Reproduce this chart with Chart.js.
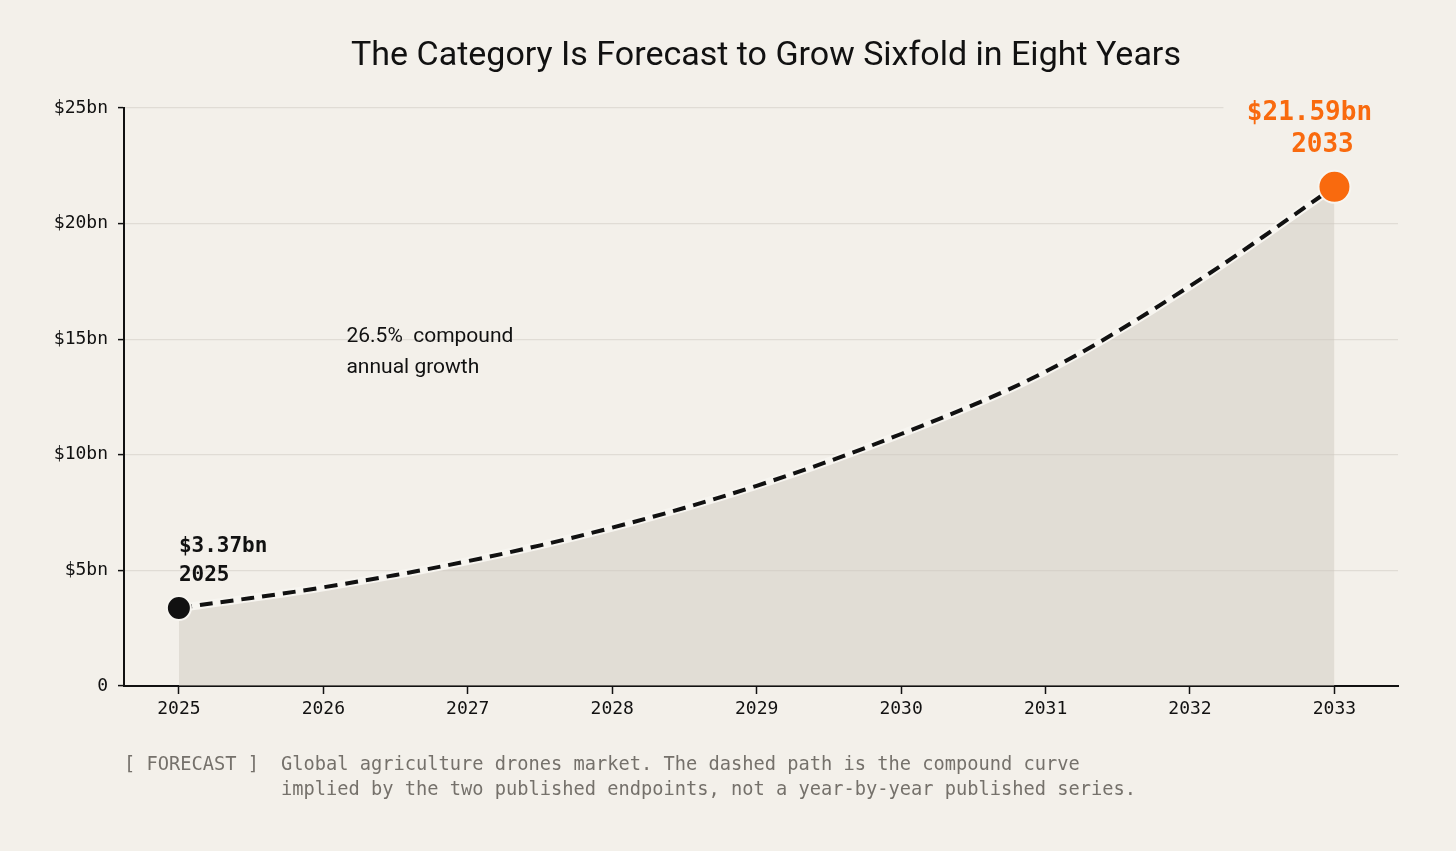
<!DOCTYPE html>
<html>
<head>
<meta charset="utf-8">
<script src="https://cdn.jsdelivr.net/npm/chart.js@4.4.1/dist/chart.umd.min.js"></script>
<style>
  html, body { margin: 0; padding: 0; background: #f3f0ea; }
  #wrap { position: relative; width: 1456px; height: 851px; overflow: hidden; }
  #chart { position: absolute; left: 0; top: 0; }
  #title {
    position: absolute; left: 0; top: 33px; width: 1532px; text-align: center;
    font-family: Roboto, sans-serif; font-size: 34px; color: #111;
  }
  .note {
    position: absolute; font-family: "DejaVu Sans Mono", monospace; font-size: 18.7px;
    color: #75716b; white-space: pre; line-height: 25px;
  }
</style>
</head>
<body>
<div id="wrap">
  <canvas id="chart" width="1456" height="851"></canvas>
  <div id="title">The Category Is Forecast to Grow Sixfold in Eight Years</div>
  <div class="note" style="left:124px; top:751px;">[ FORECAST ]</div>
  <div class="note" style="left:281px; top:751px;">Global agriculture drones market. The dashed path is the compound curve
implied by the two published endpoints, not a year-by-year published series.</div>
</div>
<script>
// data
const years = [2025, 2026, 2027, 2028, 2029, 2030, 2031, 2032, 2033];
const marketBn = [3.37, 4.27, 5.40, 6.85, 8.66, 10.9, 13.6, 17.3, 21.59];
const yTicks = [0, 5, 10, 15, 20, 25];

const monoFont = '"DejaVu Sans Mono", monospace';
const orange = '#f96a0e';

const points = years.map((y, i) => ({ x: y, y: marketBn[i] }));
const last = points.length - 1;

// labels drawn on top of the chart
const labelPlugin = {
    id: 'labels',
    afterDatasetsDraw(chart) {
        const ctx = chart.ctx;
        const xs = chart.scales.x;
        const ys = chart.scales.y;
        const x0 = xs.getPixelForValue(years[0]);
        const y0 = ys.getPixelForValue(marketBn[0]);
        const x1 = xs.getPixelForValue(years[last]);
        const y1 = ys.getPixelForValue(marketBn[last]);
        ctx.save();
        ctx.textBaseline = 'middle';

        // start label
        ctx.fillStyle = '#111';
        ctx.font = 'bold 21px ' + monoFont;
        ctx.textAlign = 'left';
        ctx.fillText('$' + marketBn[0].toFixed(2) + 'bn', x0, y0 - 62);
        ctx.fillText(String(years[0]), x0, y0 - 33);

        // end label, with a background box over the gridline
        ctx.fillStyle = '#f3f0ea';
        ctx.fillRect(x1 - 111, y1 - 92, 200, 60);
        ctx.fillStyle = orange;
        ctx.font = 'bold 26px ' + monoFont;
        ctx.textAlign = 'center';
        ctx.fillText('$' + marketBn[last].toFixed(2) + 'bn', x1 - 25, y1 - 74);
        ctx.fillText(String(years[last]), x1 - 12, y1 - 42);

        // growth annotation
        const ax = xs.getPixelForValue(2026.16);
        const ay = ys.getPixelForValue(15);
        ctx.font = '21px Roboto, sans-serif';
        ctx.textAlign = 'left';
        const w = ctx.measureText('26.5%  compound').width;
        ctx.fillStyle = '#f3f0ea';
        ctx.fillRect(ax, ay - 10, w, 8);
        ctx.fillStyle = '#111';
        ctx.fillText('26.5%  compound', ax, ay - 2);
        ctx.fillText('annual growth', ax, ay + 29);
        ctx.restore();
    }
};

const ctx = document.getElementById('chart').getContext('2d');
const chart = new Chart(ctx, {
    type: 'line',
    data: {
        datasets: [
            {
                data: points,
                borderColor: '#f7f5f0',
                borderWidth: 8,
                pointRadius: 0,
                fill: 'origin',
                backgroundColor: 'rgba(205, 198, 188, 0.45)',
                tension: 0.35,
                order: 2
            },
            {
                data: points,
                borderColor: '#111',
                borderWidth: 4,
                borderDash: [13, 8],
                fill: false,
                tension: 0.35,
                pointRadius: points.map((p, i) => i === 0 ? 12 : (i === last ? 16 : 0)),
                pointBackgroundColor: points.map((p, i) => i === last ? orange : '#111'),
                pointBorderColor: '#f7f5f0',
                pointBorderWidth: 2,
                order: 1
            }
        ]
    },
    options: {
        responsive: false,
        animation: false,
        clip: false,
        layout: { padding: { left: 0, top: 108, right: 58, bottom: 125 } },
        plugins: {
            legend: { display: false },
            tooltip: { enabled: false }
        },
        scales: {
            x: {
                type: 'linear',
                min: 2024.62,
                max: 2033.44,
                afterBuildTicks: (axis) => { axis.ticks = years.map(v => ({ value: v })); },
                afterFit: (axis) => { axis.height = 40; },
                grid: { drawOnChartArea: false, tickLength: 8, tickColor: '#111', tickWidth: 1.5 },
                border: { color: '#111', width: 2 },
                ticks: {
                    color: '#111',
                    padding: 5,
                    font: { family: monoFont, size: 18 },
                    callback: (v) => String(v)
                }
            },
            y: {
                min: 0,
                max: 25,
                afterBuildTicks: (axis) => { axis.ticks = yTicks.map(v => ({ value: v })); },
                afterFit: (axis) => { axis.width = 124; },
                grid: { color: '#e0dcd5', lineWidth: 1.2, tickLength: 6, tickColor: '#111', tickWidth: 1.5 },
                border: { color: '#111', width: 2 },
                ticks: {
                    color: '#111',
                    padding: 10,
                    font: { family: monoFont, size: 18 },
                    callback: (v) => v === 0 ? '0' : '$' + v + 'bn'
                }
            }
        }
    },
    plugins: [labelPlugin]
});
</script>
</body>
</html>
